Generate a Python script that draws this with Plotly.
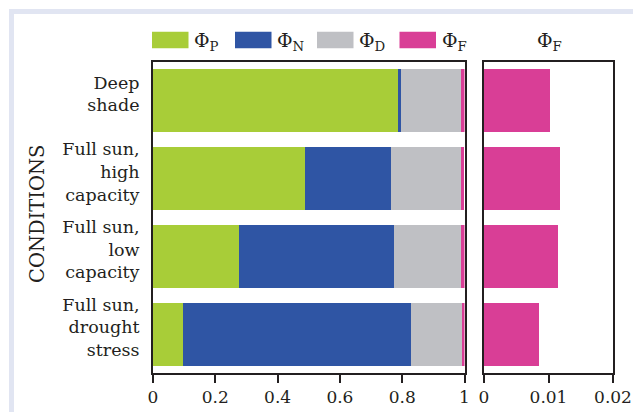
import plotly.graph_objects as go

categories = ["Deep<br>shade", "Full sun,<br>high<br>capacity", "Full sun,<br>low<br>capacity", "Full sun,<br>drought<br>stress"]
phi_p = [0.788, 0.489, 0.277, 0.096]
phi_n = [0.007, 0.274, 0.498, 0.733]
phi_d = [0.195, 0.225, 0.214, 0.163]
phi_f = [0.0103, 0.0118, 0.0114, 0.0085]
x_ticks_left = [0, 0.2, 0.4, 0.6, 0.8, 1]
x_ticks_right = [0, 0.01, 0.02]
legend_labels = ["Φ<sub>P</sub>", "Φ<sub>N</sub>", "Φ<sub>D</sub>", "Φ<sub>F</sub>"]

colors = ["#a8cd38", "#2f55a4", "#bfc0c4", "#d93e96"]
W, H = 633, 412
FONT = "DejaVu Serif"
AX = "#231f20"

def px(x):
    return x / W

def py(y):
    return 1 - y / H

fig = go.Figure()
for vals, c in zip([phi_p, phi_n, phi_d, phi_f], colors):
    fig.add_trace(go.Bar(y=categories, x=vals, orientation="h", marker=dict(color=c, line=dict(width=0)),
                         xaxis="x", yaxis="y", showlegend=False))
fig.add_trace(go.Bar(y=categories, x=phi_f, orientation="h", marker=dict(color=colors[3], line=dict(width=0)),
                     xaxis="x2", yaxis="y2", showlegend=False))

axis_common = dict(showline=True, linecolor=AX, linewidth=2, mirror=True, showgrid=False, zeroline=False)
fig.update_layout(
    width=W, height=H, margin=dict(l=0, r=0, t=0, b=0),
    paper_bgcolor="white", plot_bgcolor="white",
    barmode="stack", bargap=0.19,
    font=dict(family=FONT, size=17, color="#231f20"),
    xaxis=dict(domain=[px(153), px(464.5)], range=[0, 1], tickvals=x_ticks_left,
               ticktext=[str(v) for v in x_ticks_left], ticks="outside", ticklen=8, tickwidth=1.5,
               tickcolor=AX, anchor="y", automargin=False, tickfont=dict(size=17), **axis_common),
    yaxis=dict(domain=[py(373), py(62)], autorange="reversed", ticks="", anchor="x",
               ticklabelstandoff=8, ticklabelshift=7, automargin=False, tickfont=dict(size=17.5),
               **axis_common),
    xaxis2=dict(domain=[px(484), px(613)], range=[0, 0.02], tickvals=x_ticks_right,
                ticktext=["0", "0.01", "0.02"], ticks="outside", ticklen=8, tickwidth=1.5,
                tickcolor=AX, anchor="y2", automargin=False, tickfont=dict(size=17), **axis_common),
    yaxis2=dict(domain=[py(373), py(62)], matches="y", showticklabels=False, ticks="", anchor="x2",
                automargin=False, **axis_common),
)

shapes = [
    dict(type="rect", xref="paper", yref="paper", x0=px(9), x1=1, y0=py(14), y1=py(9),
         fillcolor="#e1e5f2", line=dict(width=0), layer="below"),
    dict(type="rect", xref="paper", yref="paper", x0=px(9), x1=px(14), y0=0, y1=py(9),
         fillcolor="#e1e5f2", line=dict(width=0), layer="below"),
]
annotations = []
sw_x = [152, 235, 317, 399.5]
for x0, c, lab in zip(sw_x, colors, legend_labels):
    shapes.append(dict(type="rect", xref="paper", yref="paper", x0=px(x0), x1=px(x0 + 36.5),
                       y0=py(48.3), y1=py(31.7), fillcolor=c, line=dict(width=0)))
    annotations.append(dict(text=lab, xref="paper", yref="paper", x=px(x0 + 40), y=py(42),
                            xanchor="left", yanchor="middle", showarrow=False,
                            font=dict(family=FONT, size=19)))
annotations.append(dict(text="Φ<sub>F</sub>", xref="paper", yref="paper", x=px(549), y=py(42),
                        xanchor="center", yanchor="middle", showarrow=False,
                        font=dict(family=FONT, size=19)))
annotations.append(dict(text="CONDITIONS", xref="paper", yref="paper", x=px(37), y=py(214),
                        xanchor="center", yanchor="middle", showarrow=False, textangle=-90,
                        font=dict(family=FONT, size=19.5)))
fig.update_layout(shapes=shapes, annotations=annotations)

fig.write_html("out.html", config={"displayModeBar": False},
               post_script="document.body.style.margin='0';document.body.style.overflow='hidden';")
